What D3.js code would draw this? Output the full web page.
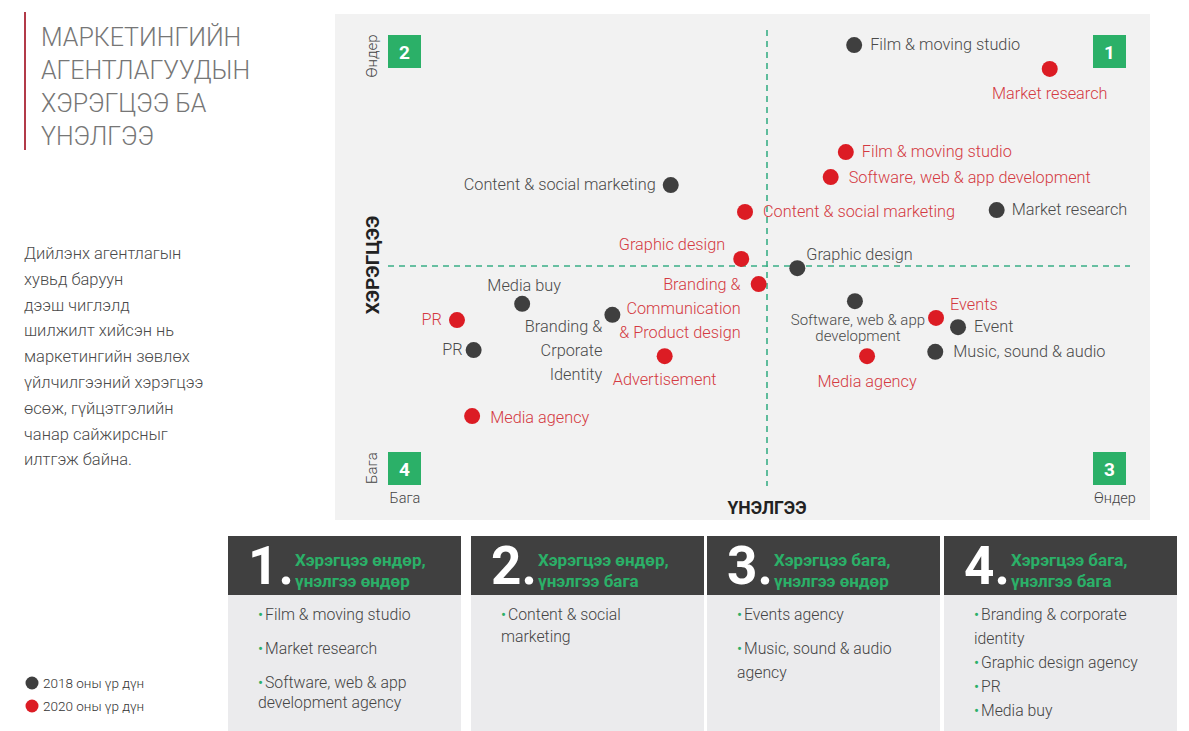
<!DOCTYPE html>
<html><head><meta charset="utf-8">
<script src="https://cdn.jsdelivr.net/npm/d3@7"></script>
<style>
body{margin:0;background:#fff;}
svg{display:block;font-family:Roboto,"Noto Sans",sans-serif;}
</style>
</head><body>
<svg id="c" width="1189" height="731"></svg>
<script>
// ---------- DATA ----------
const titleLines = ["МАРКЕТИНГИЙН", "АГЕНТЛАГУУДЫН", "ХЭРЭГЦЭЭ БА", "ҮНЭЛГЭЭ"];
const noteLines = ["Дийлэнх агентлагын", "хувьд баруун", "дээш чиглэлд", "шилжилт хийсэн нь",
  "маркетингийн зөвлөх", "үйлчилгээний хэрэгцээ", "өсөж, гүйцэтгэлийн", "чанар сайжирсныг", "илтгэж байна."];
const legendLabels = ["2018 оны үр дүн", "2020 оны үр дүн"];
const xAxisTitle = "ҮНЭЛГЭЭ";
const yAxisTitle = "ХЭРЭГЦЭЭ";
const levelLabels = ["Бага", "Өндер"];
const quadrantNumbers = ["1", "2", "3", "4"];

const labels2018 = ["Film & moving studio", "Content & social marketing", "Market research", "Graphic design",
  "Media buy", "Branding &\nCrporate\nIdentity", "Software, web & app\ndevelopment", "Event",
  "Music, sound & audio", "PR"];
const x2018 = [6.15, 3.73, 8.03, 5.40, 1.77, 2.96, 6.16, 7.52, 7.22, 1.13];
const y2018 = [10.02, 6.84, 6.27, 4.95, 4.14, 3.89, 4.20, 3.61, 3.05, 3.09];

const labels2020 = ["Market research", "Film & moving studio", "Software, web & app development",
  "Content & social marketing", "Graphic design", "Branding &\nCommunication\n& Product design", "PR",
  "Advertisement", "Media agency", "Events", "Media agency"];
const x2020 = [8.73, 6.04, 5.84, 4.71, 4.66, 4.89, 0.91, 3.65, 1.11, 7.23, 6.32];
const y2020 = [9.48, 7.59, 7.02, 6.23, 5.16, 4.59, 3.77, 2.95, 1.59, 3.82, 2.95];

const boxNumbers = ["1.", "2.", "3.", "4."];
const boxHeads = [["Хэрэгцээ өндөр,", "үнэлгээ өндөр"], ["Хэрэгцээ өндөр,", "үнэлгээ бага"],
  ["Хэрэгцээ бага,", "үнэлгээ өндөр"], ["Хэрэгцээ бага,", "үнэлгээ бага"]];
const boxItems = [
  [["Film & moving studio"], ["Market research"], ["Software, web & app", "development agency"]],
  [["Content & social", "marketing"]],
  [["Events agency"], ["Music, sound & audio", "agency"]],
  [["Branding & corporate", "identity"], ["Graphic design agency"], ["PR"], ["Media buy"]]
];

// ---------- LAYOUT / STYLE ----------
const C = {
  gray: "#3f3f3f", red: "#dc1c24", grayText: "#4a4a4a", redText: "#d43a42",
  green: "#2bb068", dash: "#3aae86", panel: "#f2f2f2", boxBody: "#ebebed", boxHead: "#404040"
};
const LABEL_FS = 16.3;
// label placement: [dx, dy, anchor, lineGap]
const place2018 = [[16,5,"start"],[-15,5,"end"],[15,5,"start"],[9,-8,"start"],[2,-13,"middle"],
  [-10,17,"end",24],[3,24,"middle",16],[16,5,"start"],[18,5,"start"],[-11,5,"end"]];
const place2020 = [[0,30,"middle"],[16,5,"start"],[18,6,"start"],[18,5,"start"],[-16,-9,"end"],
  [-18,6,"end",24],[-15,5,"end"],[0,29,"middle"],[18,7,"start"],[14,-8,"start"],[0,31,"middle"]];

const svg = d3.select("#c");

// Title
svg.append("rect").attr("x", 24).attr("y", 12).attr("width", 2).attr("height", 138).attr("fill", "#b23a48");
svg.append("g").attr("transform", "translate(41,0) scale(0.96,1)")
  .selectAll("text").data(titleLines).join("text")
  .attr("x", 0).attr("y", (d, i) => 46 + i * 33)
  .attr("font-size", 26).attr("font-weight", 300).attr("fill", "#767676").text(d => d);

// Note
svg.append("g").selectAll("text").data(noteLines).join("text")
  .attr("x", 24).attr("y", (d, i) => 259 + i * 25.8)
  .attr("font-size", 16.5).attr("font-weight", 300).attr("fill", "#4a4a4a").text(d => d);

// Legend
const lg = svg.append("g");
lg.selectAll("circle").data(legendLabels).join("circle")
  .attr("cx", 32).attr("cy", (d, i) => 683 + i * 23).attr("r", 6.5)
  .attr("fill", (d, i) => i ? C.red : C.gray);
lg.selectAll("text").data(legendLabels).join("text")
  .attr("x", 43).attr("y", (d, i) => 688 + i * 23).attr("font-size", 13.5).attr("font-weight", 300)
  .attr("fill", "#333").text(d => d);

// Panel
svg.append("rect").attr("x", 335).attr("y", 14).attr("width", 815).attr("height", 506).attr("fill", C.panel);

const x = d3.scaleLinear().domain([0, 10]).range([388, 1146]);
const y = d3.scaleLinear().domain([0, 10]).range([486, 46]);

// Dashed quadrant lines
svg.append("line").attr("x1", x(5)).attr("x2", x(5)).attr("y1", 30).attr("y2", 486)
  .attr("stroke", C.dash).attr("stroke-width", 1.6).attr("stroke-dasharray", "6,5");
svg.append("line").attr("x1", 388).attr("x2", 1130).attr("y1", y(5)).attr("y2", y(5))
  .attr("stroke", C.dash).attr("stroke-width", 1.6).attr("stroke-dasharray", "6,5");

// Quadrant number squares
const qPos = [[1093, 35], [388, 35], [1093, 452], [388, 452]];
const qg = svg.append("g").selectAll("g").data(quadrantNumbers).join("g")
  .attr("transform", (d, i) => `translate(${qPos[i][0]},${qPos[i][1]})`);
qg.append("rect").attr("width", 33).attr("height", 33).attr("fill", C.green);
qg.append("text").attr("x", 16.5).attr("y", 24).attr("text-anchor", "middle")
  .attr("font-size", 19).attr("font-weight", 700).attr("fill", "#fff").text(d => d);

// Axis labels
svg.append("text").attr("transform", "translate(377,56) rotate(-90)").attr("text-anchor", "middle")
  .attr("font-size", 15).attr("font-weight", 300).attr("fill", "#444").text(levelLabels[1]);
svg.append("text").attr("transform", "translate(377,468) rotate(-90)").attr("text-anchor", "middle")
  .attr("font-size", 15).attr("font-weight", 300).attr("fill", "#444").text(levelLabels[0]);
svg.append("text").attr("transform", "translate(379,265) rotate(-90)").attr("text-anchor", "middle")
  .attr("font-size", 19).attr("font-weight", 700).attr("fill", "#222").text(yAxisTitle);
svg.append("text").attr("x", 405).attr("y", 503).attr("text-anchor", "middle")
  .attr("font-size", 14.5).attr("font-weight", 300).attr("fill", "#444").text(levelLabels[0]);
svg.append("text").attr("x", 1115).attr("y", 503).attr("text-anchor", "middle")
  .attr("font-size", 14.5).attr("font-weight", 300).attr("fill", "#444").text(levelLabels[1]);
svg.append("text").attr("x", x(5)).attr("y", 514).attr("text-anchor", "middle")
  .attr("font-size", 17.5).attr("font-weight", 700).attr("fill", "#222").text(xAxisTitle);

// Points + labels
function drawSeries(labels, xs, ys, place, dotColor, textColor) {
  const data = labels.map((l, i) => ({ l, x: xs[i], y: ys[i], p: place[i] }));
  const g = svg.append("g");
  g.selectAll("circle").data(data).join("circle")
    .attr("cx", d => x(d.x)).attr("cy", d => y(d.y)).attr("r", 8).attr("fill", dotColor);
  const t = g.selectAll("text").data(data).join("text")
    .attr("x", d => x(d.x) + d.p[0]).attr("y", d => y(d.y) + d.p[1])
    .attr("text-anchor", d => d.p[2]).attr("font-size", LABEL_FS).attr("font-weight", 300)
    .attr("fill", textColor);
  t.each(function (d) {
    const lines = d.l.split("\n");
    const sel = d3.select(this);
    if (lines.length === 1) { sel.text(d.l); return; }
    lines.forEach((ln, k) => sel.append("tspan").attr("x", x(d.x) + d.p[0])
      .attr("dy", k ? d.p[3] : 0).attr("font-size", d.p[3] < 20 ? 15 : LABEL_FS).text(ln));
  });
}
drawSeries(labels2018, x2018, y2018, place2018, C.gray, C.grayText);
drawSeries(labels2020, x2020, y2020, place2020, C.red, C.redText);

// Bottom boxes
const boxLeft = [228, 471, 707, 944], boxW = 233;
const lineGap = [20, 22, 24, 24], itemExtra = [14, 0, 10, 0];
boxLeft.forEach((bx, i) => {
  const g = svg.append("g").attr("transform", `translate(${bx},0)`);
  g.append("rect").attr("y", 536).attr("width", boxW).attr("height", 59).attr("fill", C.boxHead);
  g.append("rect").attr("y", 595).attr("width", boxW).attr("height", 136).attr("fill", C.boxBody);
  g.append("text").attr("x", 20).attr("y", 584).attr("font-size", 53).attr("font-weight", 700)
    .attr("fill", "#fff").text(boxNumbers[i]);
  g.selectAll(".h").data(boxHeads[i]).join("text").attr("class", "h")
    .attr("x", 67).attr("y", (d, k) => 566 + k * 21).attr("font-size", 17).attr("font-weight", 700)
    .attr("fill", C.green).text(d => d);
  let yy = 620;
  boxItems[i].forEach((item, k) => {
    item.forEach((ln, j) => {
      if (j === 0) {
        g.append("text").attr("x", 30).attr("y", yy).attr("font-size", 15).attr("fill", C.green).text("•");
        g.append("text").attr("x", 37).attr("y", yy).attr("font-size", 15.8).attr("font-weight", 300)
          .attr("fill", "#444").text(ln);
      } else {
        g.append("text").attr("x", 30).attr("y", yy).attr("font-size", 15.8).attr("font-weight", 300)
          .attr("fill", "#444").text(ln);
      }
      yy += lineGap[i];
    });
    yy += itemExtra[i];
  });
});
</script>
</body></html>
